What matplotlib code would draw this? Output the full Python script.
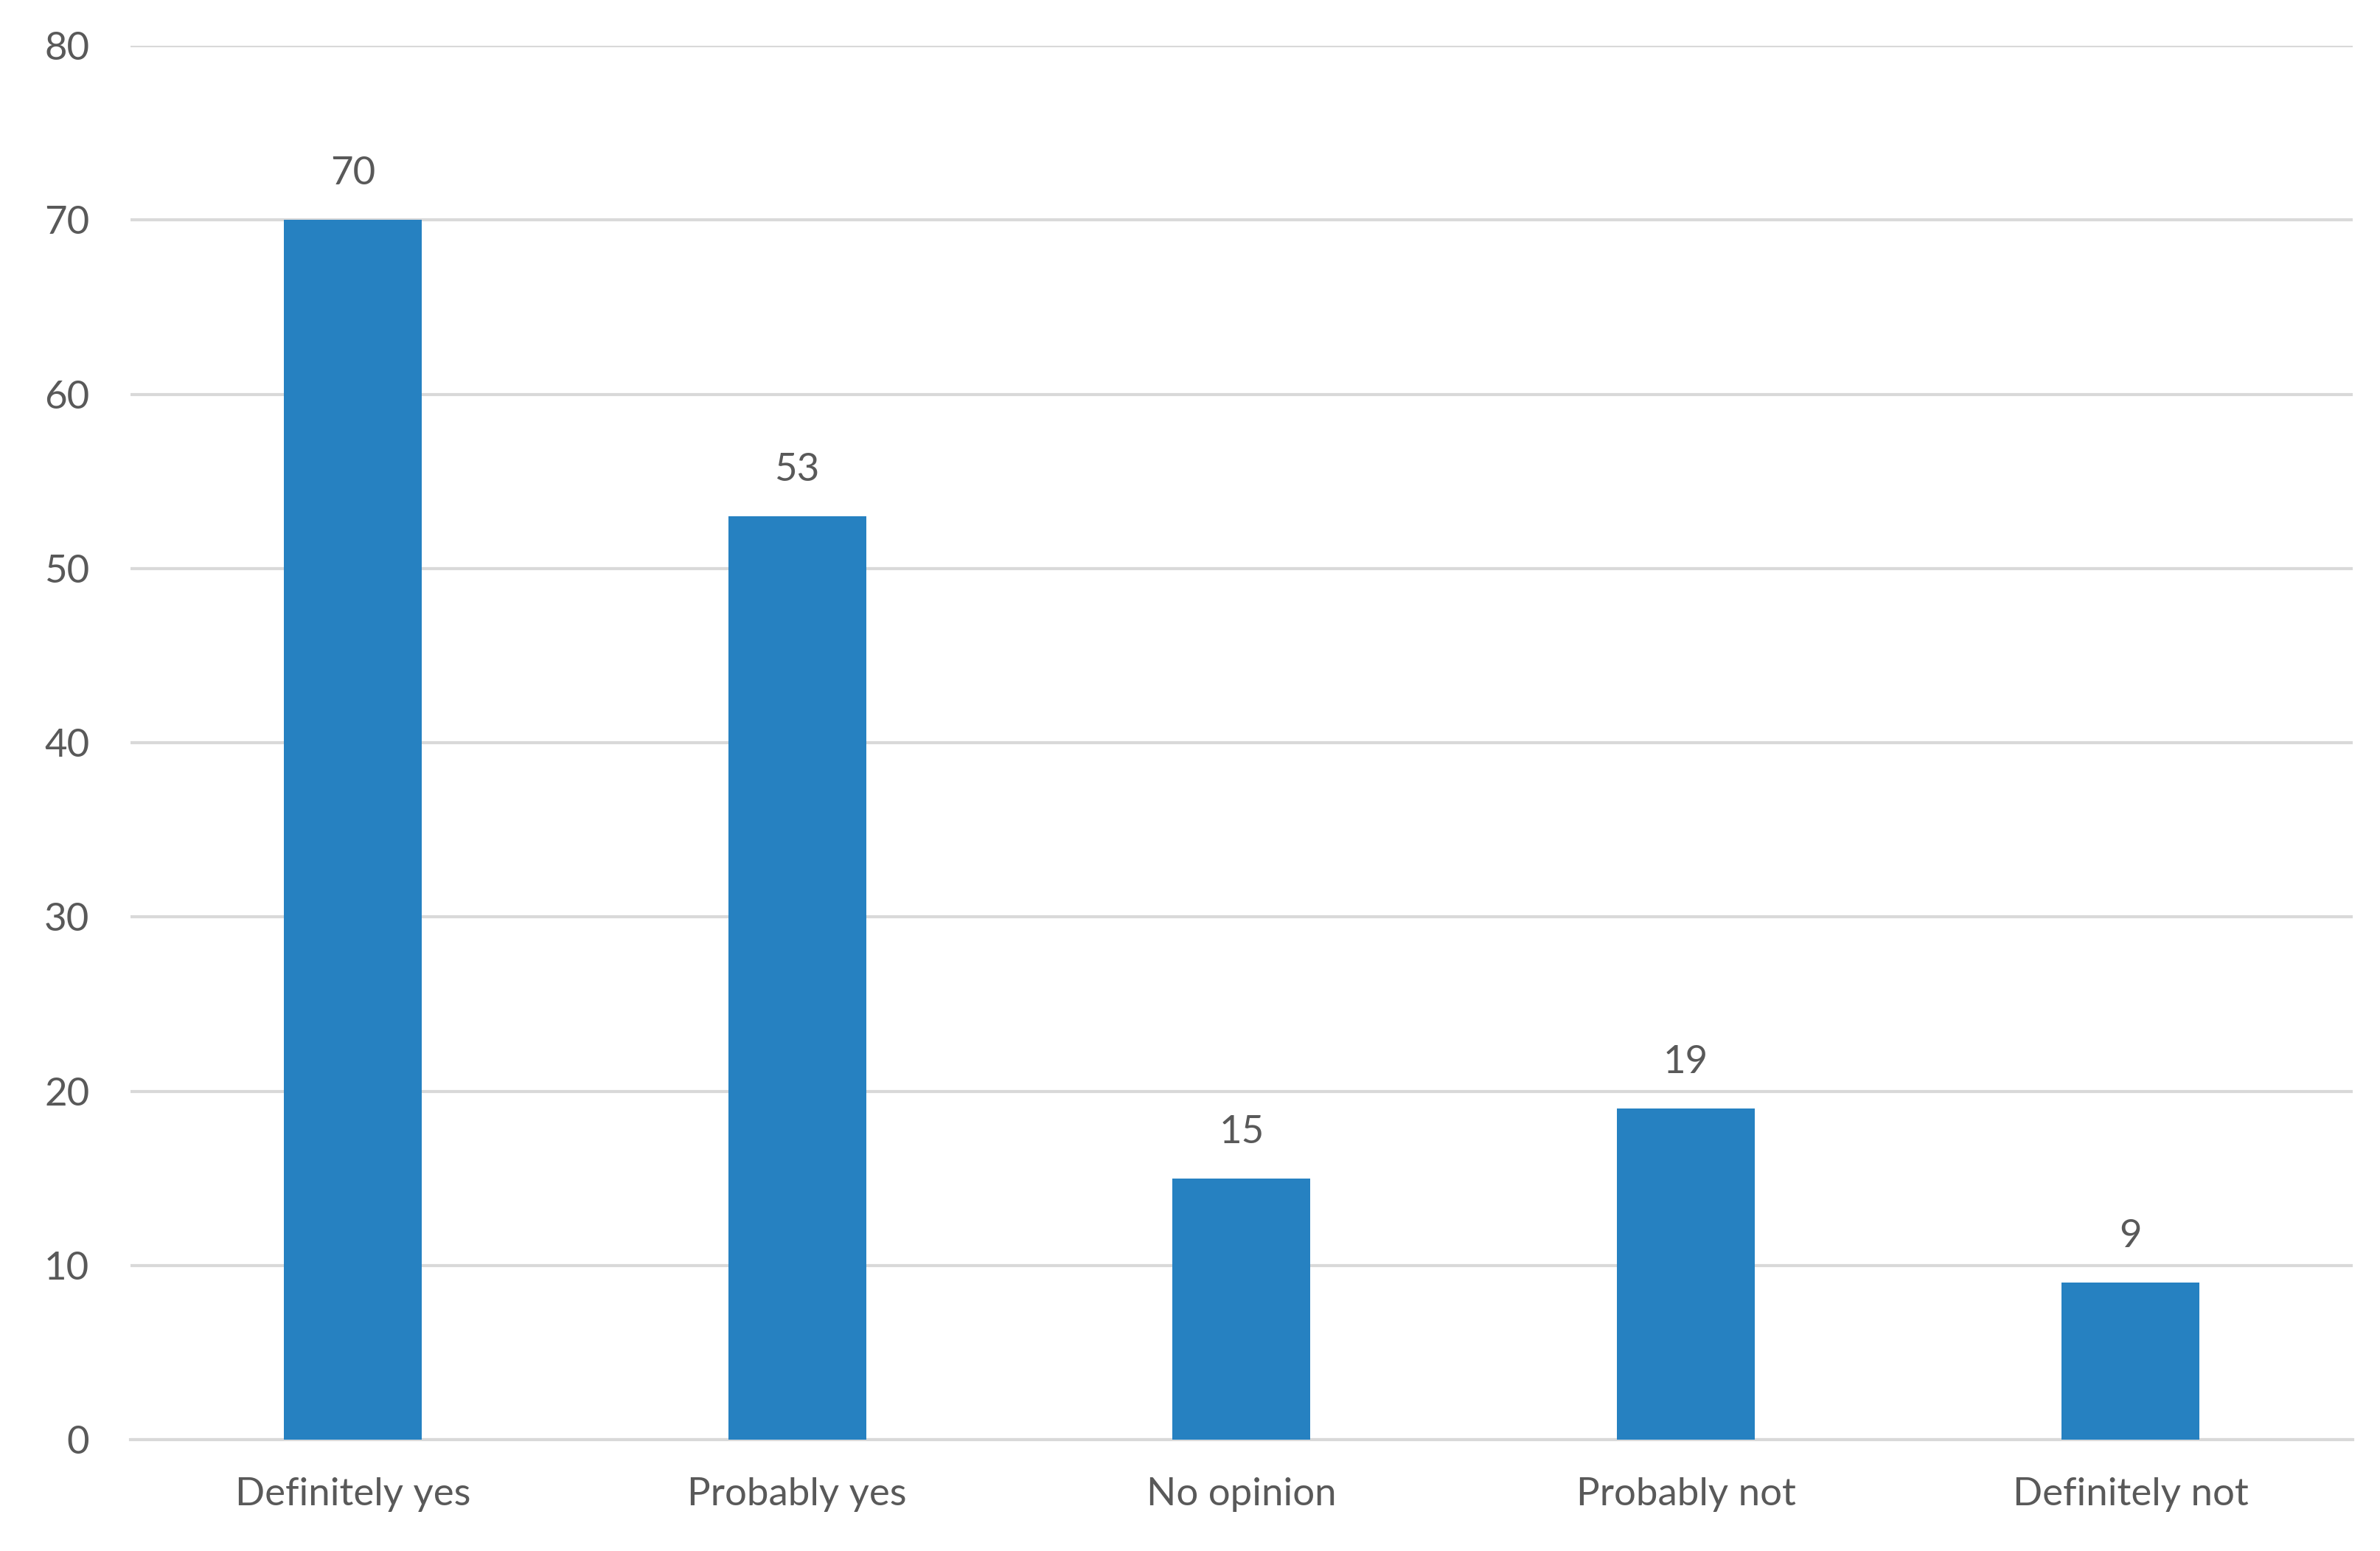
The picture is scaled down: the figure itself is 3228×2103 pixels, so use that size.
import matplotlib.pyplot as plt

categories = ["Definitely yes", "Probably yes", "No opinion", "Probably not", "Definitely not"]
counts = [70, 53, 15, 19, 9]
y_ticks = [0, 10, 20, 30, 40, 50, 60, 70, 80]

BAR_COLOR = "#2681C1"
TEXT_COLOR = "#595959"
GRID_COLOR = "#D9D9D9"

plt.rcParams["font.family"] = ["Lato", "DejaVu Sans"]

fig = plt.figure(figsize=(32.28, 21.03), dpi=100)
ax = fig.add_axes([0.0548, 0.0718, 0.9337, 0.8987])

x = range(len(categories))
bars = ax.bar(x, counts, width=0.31, color=BAR_COLOR, zorder=3)
ax.bar_label(bars, padding=28, fontsize=38, color=TEXT_COLOR)

ax.set_xlim(-0.5, len(categories) - 0.5)
ax.set_ylim(0, 80)
ax.set_yticks(y_ticks)
ax.set_xticks(list(x))
ax.set_xticklabels(categories)

ax.yaxis.grid(True, color=GRID_COLOR, linewidth=3, zorder=0)
ax.tick_params(axis="both", length=0, labelsize=38, colors=TEXT_COLOR)
ax.tick_params(axis="y", pad=40)
ax.tick_params(axis="x", pad=37)

for side in ["top", "right", "left"]:
    ax.spines[side].set_visible(False)
ax.spines["bottom"].set_color(GRID_COLOR)
ax.spines["bottom"].set_linewidth(3)
ax.spines["bottom"].set_zorder(1)

fig.savefig("out.png", dpi=100, facecolor="white")
